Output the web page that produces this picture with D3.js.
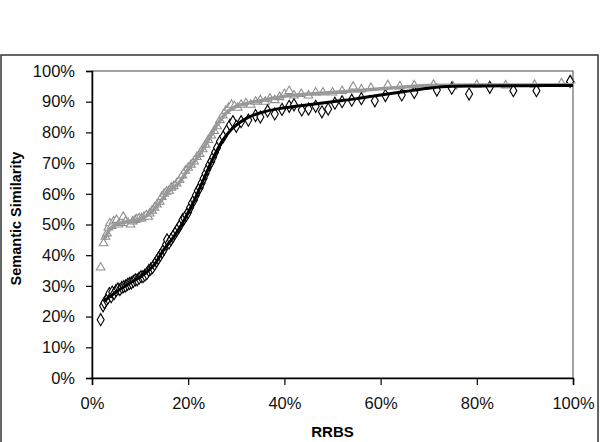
<!DOCTYPE html>
<html>
<head>
<meta charset="utf-8">
<script src="https://cdn.jsdelivr.net/npm/d3@7"></script>
<style>
  body { margin: 0; background: #fff; }
  svg { display: block; font-family: "Liberation Sans", Arial, sans-serif; }
</style>
</head>
<body>
<div id="chart"></div>
<script>
// RRBS (x) vs semantic similarity (y), both in percent

// black diamonds
let diamondPts = [
  [1.8,19],[2.3,23.5],[2.6,24.5],[3.0,25.5],[3.3,26],[3.6,27.5],[4.0,26.5],[4.2,28],[4.6,27.5],
  [5.0,28.5],[5.4,29],[5.8,28.8],[6.2,29.5],[6.6,29.8],[7.0,30],[7.4,30.5],[7.8,30.8],[8.2,31],
  [8.6,31.5],[9.0,32],[9.4,32],[9.8,32.5],[10.2,33],[10.6,33],[11.0,33.5],[11.4,34],[11.8,35],
  [12.2,35.5],[12.6,36],[13.0,37],[13.4,38],[13.8,39],[14.2,40],[14.6,41],[15.0,42],[15.4,43.5],
  [15.6,45],[16.0,44],[16.4,45],[16.8,46],[17.2,47],[17.6,48],[18.0,49],[18.4,50],[18.8,51.5],
  [19.2,52],[19.6,53],[20.0,54],[20.4,55.5],[20.8,57],[21.2,58],[21.6,59.5],[22.0,61],[22.4,62],
  [22.8,63.5],[23.2,65],[23.6,66.5],[24.0,68],[24.4,69.5],[24.8,70.5],[25.2,72],[25.6,73.5],
  [26.0,75],[26.6,77],[27.3,78.6],[28.0,80.5],[28.7,82.4],[29.3,83.5],[30.0,82],[31.0,83.5],
  [32.5,84],[34.0,85.5],[35.0,85],[36.5,87],[38.0,86],[39.5,87.5],[41.0,88.5],[42.0,89],
  [43.6,87.3],[45.0,87.6],[46.5,88.5],[47.8,86.7],[49.1,87.6],[50.5,89.5],[52,90],[54,90.5],
  [56,91],[58.8,90.3],[61,92],[64.4,92.2],[67,93],[71.7,93.8],[74.8,94.4],[78.4,92.5],
  [82.7,94.7],[87.6,93.6],[92.4,93.6],[99.4,96.6]
];

// gray triangles
let trianglePts = [
  [1.8,36],[2.4,43.9],[2.8,46],[3.1,47.1],[3.4,49],[3.7,50.4],[4.1,49.5],[4.5,51],[5.1,51.5],
  [5.5,50],[6.0,50.5],[6.5,52.5],[7.0,51],[7.5,50.5],[8.0,50],[8.5,51],[9.0,51.5],[9.3,51.7],
  [9.8,52],[10.3,52],[10.8,52.5],[11.3,53],[11.7,52.5],[12.0,53.6],[12.5,54.5],[13.0,55.5],
  [13.5,56.5],[14.1,57.4],[14.5,59],[15.0,60],[15.5,60.7],[16.0,61],[16.5,62],[17.0,62.5],
  [17.6,63.4],[18.2,64.5],[18.8,66],[19.4,67.5],[20.0,68.5],[20.6,69.5],[21.2,70.5],[21.8,72],
  [22.4,73],[23.0,74.5],[23.6,76],[24.2,77.5],[24.8,79],[25.4,80.5],[26.0,82],[26.6,84],
  [27.2,85.5],[27.8,87],[28.4,88],[29.0,89],[29.6,88.5],[30.3,88],[31.0,89],[32.0,89.5],
  [33.0,89],[34.0,90],[35.0,90.5],[36.0,90],[37.0,91],[38.0,90.5],[39.0,91.5],[40.0,92.5],
  [41.0,93.5],[42.0,92],[43.5,92.5],[45.0,92],[46.5,93],[48.0,93],[50.0,93],[52.0,93.5],
  [54.3,94.9],[56,94],[58,94.5],[61.5,95.4],[64,95],[67,95.3],[71,95.5],[75,95],[80,95.5],
  [86,95.3],[92,95.5],[97.6,96],[99.5,97]
];

// trend lines
let diamondTrend = [
  [2.5,25],[5,28],[8,31],[11,34],[13,37],[15,42],[17,46],[19,51],[21,57],[23,64],[25,71],
  [27,77],[29,81],[32,84.5],[36,86.8],[40,88],[45,89],[50,90],[55,91],[60,92.2],[65,93.3],
  [70,94.4],[75,95],[80,95.1],[90,95.2],[100,95.3]
];
let triangleTrend = [
  [2.5,45],[4,49],[6,50.5],[9,51.3],[12,53.5],[14,57],[16,61],[18,63.5],[20,68],[22,72],
  [24,77],[26,82.5],[28,86.5],[30,88.5],[33,89.7],[36,90.6],[40,91.8],[45,92.5],[50,93],
  [55,93.6],[60,94.2],[65,94.8],[70,95.3],[80,95.4],[100,95.5]
];

let xTicks = [0, 20, 40, 60, 80, 100];
let yTicks = [0, 10, 20, 30, 40, 50, 60, 70, 80, 90, 100];

let width = 600, height = 442;
let margin = {top: 71, right: 27, bottom: 64, left: 92};
let w = width - margin.left - margin.right;
let h = height - margin.top - margin.bottom;

let svg = d3.select("#chart").append("svg")
    .attr("width", width)
    .attr("height", height);

// outer chart frame
svg.append("rect")
    .attr("x", 1).attr("y", 55)
    .attr("width", 597).attr("height", 400)
    .attr("fill", "none")
    .attr("stroke", "#333")
    .attr("stroke-width", 1.5);

let g = svg.append("g")
    .attr("transform", `translate(${margin.left}, ${margin.top})`);

let x = d3.scaleLinear().domain([0, 100]).range([0, w]);
let y = d3.scaleLinear().domain([0, 100]).range([h, 0]);

// plot area border
g.append("rect")
    .attr("width", w).attr("height", h)
    .attr("fill", "none")
    .attr("stroke", "#666")
    .attr("stroke-width", 1.2);

let pct = d => d + "%";

let yAxis = g.append("g")
    .call(d3.axisLeft(y).tickValues(yTicks).tickFormat(pct).tickSize(6).tickPadding(11));
let xAxis = g.append("g")
    .attr("transform", `translate(0, ${h})`)
    .call(d3.axisBottom(x).tickValues(xTicks).tickFormat(pct).tickSize(7).tickPadding(12));

[xAxis, yAxis].forEach(a => {
    a.select(".domain").attr("stroke", "#000").attr("stroke-width", 1.5);
    a.selectAll(".tick line").attr("stroke", "#000").attr("stroke-width", 1.2);
    a.selectAll("text")
        .attr("font-family", "Liberation Sans, Arial, sans-serif")
        .attr("font-size", 16.5)
        .attr("fill", "#111");
});

// markers
let diamond = d3.symbol().type(d3.symbolDiamond).size(42);
let triangle = d3.symbol().type(d3.symbolTriangle).size(32);

g.append("g").selectAll("path")
    .data(trianglePts)
    .enter()
    .append("path")
    .attr("d", triangle)
    .attr("transform", d => `translate(${x(d[0])}, ${y(d[1])})`)
    .attr("fill", "#fff")
    .attr("stroke", "#8f8f8f")
    .attr("stroke-width", 1.1);

g.append("g").selectAll("path")
    .data(diamondPts)
    .enter()
    .append("path")
    .attr("d", diamond)
    .attr("transform", d => `translate(${x(d[0])}, ${y(d[1])})`)
    .attr("fill", "#fff")
    .attr("stroke", "#000")
    .attr("stroke-width", 1.1);

// trend lines
let line = d3.line()
    .x(d => x(d[0]))
    .y(d => y(d[1]))
    .curve(d3.curveMonotoneX);

g.append("path")
    .datum(triangleTrend)
    .attr("d", line)
    .attr("fill", "none")
    .attr("stroke", "#999")
    .attr("stroke-width", 3.5);

g.append("path")
    .datum(diamondTrend)
    .attr("d", line)
    .attr("fill", "none")
    .attr("stroke", "#000")
    .attr("stroke-width", 3);

// axis titles
svg.append("text")
    .attr("x", margin.left + w / 2)
    .attr("y", 437)
    .attr("text-anchor", "middle")
    .attr("font-size", 15)
    .attr("font-weight", "bold")
    .text("RRBS");

svg.append("text")
    .attr("transform", `translate(21, ${margin.top + h / 2 - 6}) rotate(-90)`)
    .attr("text-anchor", "middle")
    .attr("font-size", 14.5)
    .attr("font-weight", "bold")
    .text("Semantic Similarity");
</script>
</body>
</html>
